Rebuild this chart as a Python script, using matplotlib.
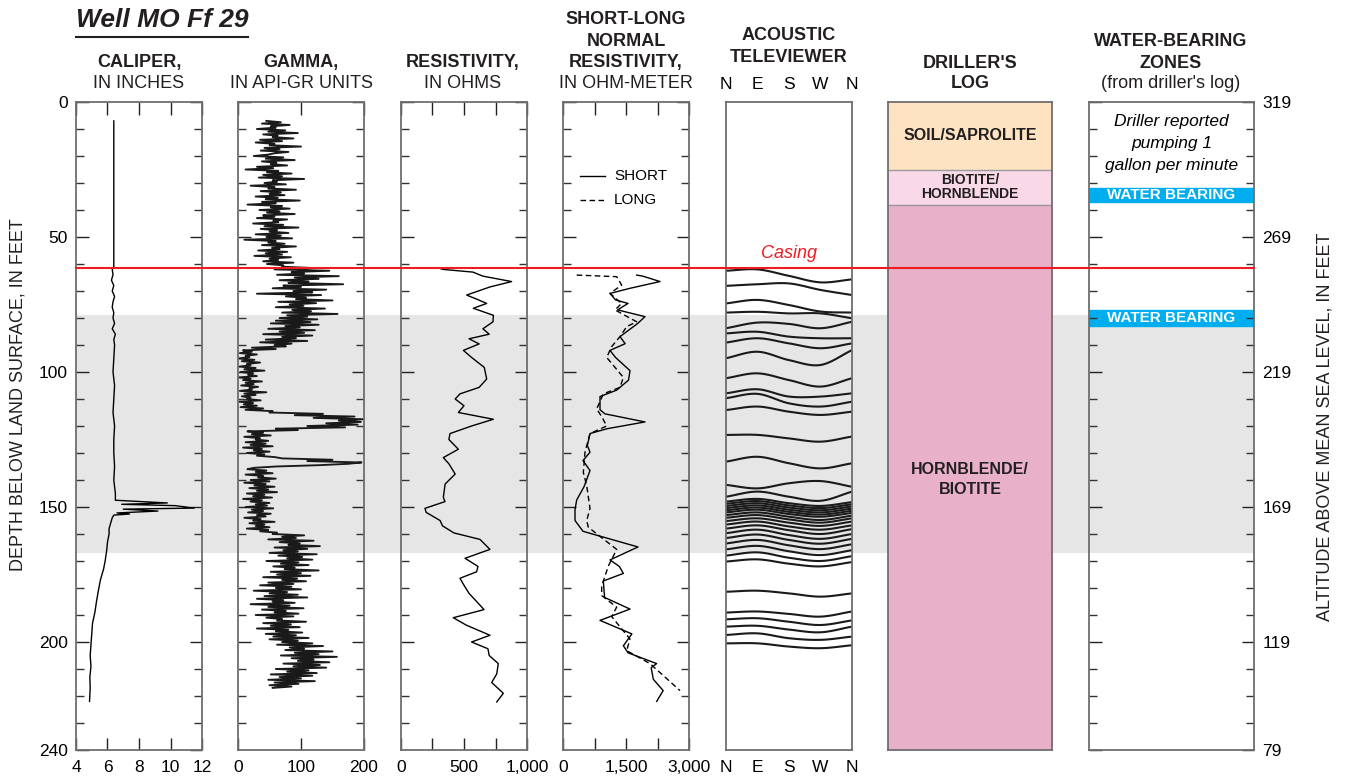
import numpy as np
import matplotlib
matplotlib.use('Agg')
import matplotlib.pyplot as plt
from matplotlib.patches import Rectangle
from matplotlib.lines import Line2D
import matplotlib.transforms as mtransforms

plt.rcParams['font.family'] = ['Liberation Sans', 'DejaVu Sans']

# ---------------- data ----------------
caliper_depth = [7, 61, 62, 64, 66, 68, 70, 72, 74, 76, 78, 80, 82, 84, 86, 88, 90, 95, 100, 105, 110,
                 115, 120, 125, 130, 135, 140, 145, 147.5, 148.5, 149, 149.5, 150.4, 150.8, 151.5, 152.2,
                 152.6, 153, 154, 156, 158, 160, 163, 166, 170, 173, 177, 181, 185, 189, 193, 197, 201,
                 205, 209, 213, 217, 222]
caliper_val = [6.4, 6.4, 6.3, 6.35, 6.25, 6.4, 6.3, 6.45, 6.35, 6.3, 6.4, 6.35, 6.45, 6.3, 6.5, 6.4, 6.45,
               6.4, 6.35, 6.45, 6.4, 6.35, 6.45, 6.4, 6.4, 6.45, 6.4, 6.5, 6.5, 9.8, 6.9, 10.3, 11.5, 7.0,
               9.2, 6.6, 7.4, 6.4, 6.3, 6.2, 6.1, 6.1, 6.0, 5.95, 5.85, 5.75, 5.55, 5.42, 5.3, 5.2, 5.05,
               5.0, 4.95, 4.9, 4.95, 4.88, 4.9, 4.86]

# gamma log sampled every 0.5 ft from 7 ft to 217 ft
gamma_top, gamma_step = 7.0, 0.5
gamma_val = [
    # 7-60.5 ft
    45, 68, 38, 82, 52, 60, 30, 75, 48, 95, 40, 63, 55, 88, 35, 70,
    28, 58, 50, 100, 42, 66, 36, 80, 58, 47, 25, 72, 44, 90, 38, 61,
    52, 78, 30, 56, 12, 64, 46, 85, 40, 70, 33, 105, 55, 62, 42, 76,
    20, 58, 48, 92, 36, 68, 50, 74, 28, 63, 44, 98, 38, 60, 15, 70,
    52, 82, 34, 66, 46, 90, 40, 58, 30, 78, 56, 64, 24, 72, 42, 96,
    36, 62, 50, 80, 28, 68, 45, 86, 10, 60, 48, 74, 38, 92, 54, 66,
    32, 78, 44, 70, 26, 84, 50, 64, 40, 88, 46, 72,
    # 61-80.5 ft
    70, 120, 58, 145, 85, 105, 62, 160, 90, 128, 66, 112, 80, 167, 72, 100,
    55, 140, 88, 118, 30, 132, 76, 108, 92, 150, 64, 124, 82, 104, 60, 138,
    86, 116, 70, 158, 78, 110, 66, 126,
    # 81-91.5 ft
    60, 115, 52, 128, 75, 98, 48, 122, 66, 105, 40, 118, 70, 92, 44, 110, 35, 85, 58, 76, 22, 60,
    # 92-114.5 ft
    8, 22, 3, 30, 12, 18, 0, 26, 6, 35, 14, 20, 2, 28, 10, 42,
    4, 24, 16, 30, 1, 20, 8, 38, 12, 25, 5, 32, 18, 22, 3, 45,
    10, 28, 6, 20, 14, 36, 2, 24, 9, 30, 4, 40, 12, 55,
    # 115-121.5 ft
    50, 135, 90, 185, 120, 199, 160, 195, 140, 190, 110, 170, 60, 95,
    # 122-131.5 ft
    15, 40, 22, 52, 10, 35, 28, 48, 12, 44, 20, 55, 8, 38, 25, 50, 14, 42, 30, 58,
    # 132-135.5 ft
    70, 150, 110, 196, 175, 130, 60, 25,
    # 136-159.5 ft
    15, 45, 28, 55, 12, 40, 32, 60, 20, 50, 10, 44, 26, 58, 18, 48,
    30, 62, 14, 42, 24, 54, 8, 38, 20, 50, 28, 46, 12, 56, 22, 40,
    16, 52, 30, 44, 10, 36, 24, 58, 18, 42, 28, 50, 14, 48, 35, 62,
    # 160-178.5 ft
    55, 105, 70, 92, 48, 120, 66, 98, 80, 130, 58, 110, 72, 95, 50, 125,
    64, 102, 78, 118, 45, 96, 68, 112, 56, 90, 74, 128, 52, 100, 62, 115,
    40, 94, 70, 108, 48, 88,
    # 179-199.5 ft
    35, 85, 60, 100, 25, 78, 50, 95, 42, 110, 30, 72, 55, 90, 20, 82,
    48, 104, 38, 76, 58, 96, 28, 88, 45, 70, 62, 108, 40, 84, 52, 98,
    30, 80, 60, 102, 44, 92, 56, 112, 50, 95,
    # 200-217 ft
    70, 118, 62, 135, 82, 105, 75, 150, 90, 128, 68, 157, 85, 120, 95, 145,
    72, 130, 88, 140, 60, 112, 78, 125, 52, 118, 66, 100, 48, 122, 58, 96,
    50, 85, 55,
]

res_depth = [61.5, 62, 63, 64.5, 66.5, 68.5, 71.5, 73, 74.6, 76.4, 79, 81.4, 84, 86, 87.7, 89.6, 92, 94.6,
             98.3, 102.6, 105.7, 108.1, 110, 112.5, 115, 117.5, 120, 122.8, 125, 128.6, 131.7, 134, 137.8,
             141.5, 146.4, 148, 150.5, 152, 155, 157, 159.6, 162, 165.7, 169, 172, 174, 176.4, 179, 182,
             185, 188, 191, 193.8, 197.5, 200, 202.5, 205, 208, 211.8, 215, 219, 222.2]
res_val = [300, 333, 571, 650, 878, 706, 521, 600, 680, 574, 733, 730, 650, 700, 540, 620, 495, 560, 661,
           680, 620, 468, 430, 500, 455, 733, 560, 389, 380, 455, 336, 380, 430, 350, 336, 349, 190, 200,
           310, 330, 420, 627, 706, 508, 611, 600, 468, 500, 540, 600, 659, 415, 520, 706, 560, 690, 700,
           772, 760, 720, 812, 760]

short_depth = [64.1, 64.5, 66.5, 69, 70.9, 73.3, 74.6, 77, 79.5, 82, 86.9, 89.5, 92, 94.6, 99.5, 103,
               106.7, 109.1, 114, 115.5, 118.5, 121, 122.8, 127.2, 129.7, 132.8, 136.5, 142.5, 147.4, 151,
               155, 159, 164.8, 169.6, 172, 174.6, 177.4, 183.5, 187.8, 192, 197, 201.4, 204, 208, 209.5,
               213.8, 218, 222]
short_val = [1754, 1900, 2310, 1595, 1119, 1250, 1548, 1300, 1952, 1780, 1357, 1480, 1119, 1250, 1595,
             1560, 1280, 881, 881, 1000, 1952, 1050, 643, 580, 643, 476, 643, 500, 326, 286, 286, 476,
             1786, 1119, 1340, 1437, 960, 990, 1595, 881, 1640, 1437, 1548, 2230, 2100, 2150, 2385, 2230]

long_depth = [64.1, 64.7, 67.8, 70.9, 74.6, 77, 81.4, 83.2, 86.9, 90.6, 94.6, 102, 105.7, 108.1, 113.7,
              116.5, 120, 122.8, 129.7, 137.2, 142.1, 150.5, 155, 157.5, 165.7, 171.9, 179.3, 182.8, 187.1,
              190.6, 198.9, 203.2, 208, 218]
long_val = [326, 1278, 1397, 1119, 1397, 1238, 1754, 1516, 1357, 1159, 1040, 1437, 1357, 960, 802, 921,
            1040, 643, 524, 484, 564, 643, 564, 603, 1278, 1079, 921, 921, 1278, 1159, 1595, 1516, 2071,
            2786]

# acoustic televiewer fractures: depth (ft) at azimuth N, E, S, W, N
atv_azimuth = [0, 90, 180, 270, 360]
atv_fractures = [
    [62.5, 62.0, 64.4, 66.8, 65.7],
    [68.1, 67.5, 67.2, 69.6, 71.5],
    [74.6, 73.3, 75.2, 77.6, 78.0],
    [78.0, 77.7, 78.3, 78.3, 80.1],
    [83.8, 81.7, 82.2, 83.8, 81.4],
    [85.7, 85.1, 86.9, 87.5, 87.5],
    [89.1, 87.5, 89.4, 91.2, 89.4],
    [94.9, 92.5, 95.6, 97.4, 91.9],
    [102.3, 100.5, 103.0, 105.4, 102.3],
    [107.9, 106.4, 109.1, 109.1, 107.9],
    [109.7, 108.1, 111.6, 112.8, 111.0],
    [114.1, 112.8, 114.7, 115.9, 114.7],
    [123.3, 123.3, 124.6, 125.8, 123.9],
    [133.2, 131.4, 133.8, 135.7, 133.8],
    [141.8, 143.1, 141.2, 140.4, 142.5],
    [146.2, 144.3, 146.2, 147.7, 144.3],
    [148.0, 147.0, 148.6, 149.6, 148.2],
    [148.8, 147.8, 149.4, 150.4, 149.0],
    [149.6, 148.6, 150.2, 151.2, 149.8],
    [150.4, 149.4, 151.0, 152.0, 150.6],
    [151.2, 150.2, 151.8, 152.8, 151.4],
    [152.0, 151.0, 152.6, 153.6, 152.2],
    [153.0, 152.0, 153.6, 154.8, 153.2],
    [154.0, 153.0, 154.6, 155.8, 154.2],
    [155.2, 154.2, 155.8, 157.0, 155.4],
    [156.5, 155.4, 157.2, 158.4, 156.8],
    [158.0, 156.8, 158.6, 160.0, 158.2],
    [159.7, 158.4, 160.4, 161.8, 160.0],
    [161.5, 160.2, 162.2, 163.6, 161.8],
    [163.5, 162.2, 164.2, 165.6, 163.8],
    [165.7, 164.4, 166.4, 167.8, 166.0],
    [168.0, 166.8, 168.8, 170.0, 168.2],
    [170.2, 169.4, 171.0, 172.0, 170.4],
    [181.4, 181.0, 182.0, 183.2, 182.0],
    [189.1, 188.7, 189.6, 190.6, 188.7],
    [191.6, 191.2, 192.5, 193.7, 192.0],
    [194.3, 194.0, 195.4, 196.4, 194.3],
    [197.4, 196.8, 198.6, 199.2, 198.0],
    [200.5, 200.5, 201.7, 202.3, 201.2],
]

driller_units = ['SOIL/SAPROLITE', 'BIOTITE/\nHORNBLENDE', 'HORNBLENDE/\nBIOTITE']
driller_top = [0, 25, 38]
driller_bot = [25, 38, 240]
driller_colors = ['#fde3c1', '#f9d9e7', '#e8b1c9']

water_zones_top = [32, 77]
water_zones_bot = [37, 83]

gray_band = (79, 167)
casing_depth = 61.5

depth_ticks = [0, 50, 100, 150, 200, 240]
altitude_labels = ['319', '269', '219', '169', '119', '79']

# ---------------- figure ----------------
W, H = 1348, 780
fig = plt.figure(figsize=(W / 100, H / 100), dpi=100)
TOP_PX, BOT_PX = 102, 750
FRAME = '#6e6e6e'


def add_ax(x0, x1):
    ax = fig.add_axes([x0 / W, 1 - BOT_PX / H, (x1 - x0) / W, (BOT_PX - TOP_PX) / H])
    ax.set_facecolor('none')
    ax.set_ylim(240, 0)
    for s in ax.spines.values():
        s.set_color(FRAME)
        s.set_linewidth(1.3)
    return ax


def depth_ticks_on(ax, left=True, right=True):
    ax.set_yticks([0, 50, 100, 150, 200])
    ax.set_yticks(np.arange(10, 240, 10), minor=True)
    ax.tick_params(axis='y', which='major', direction='in', length=9, width=1.0, color='#222222',
                   left=left, right=right, labelleft=False)
    ax.tick_params(axis='y', which='minor', direction='in', length=6, width=1.0, color='#333333',
                   left=left, right=right)


def x_ticks(ax, major, labels, minor=None):
    ax.set_xticks(major)
    ax.set_xticklabels(labels)
    if minor:
        ax.set_xticks(minor, minor=True)
    ax.tick_params(axis='x', which='both', direction='in', length=9, width=1.0, color='#222222',
                   top=True, bottom=True, labelsize=12.5, pad=7)


axes_px = {
    'cal': (76, 202), 'gam': (238, 364), 'res': (401, 527), 'sl': (563, 689),
    'atv': (726, 852), 'drl': (888, 1052), 'wat': (1089, 1254),
}

ax_cal = add_ax(*axes_px['cal'])
ax_cal.set_xlim(4, 12)
depth_ticks_on(ax_cal)
x_ticks(ax_cal, [4, 6, 8, 10, 12], ['4', '6', '8', '10', '12'])
ax_cal.set_yticks(depth_ticks)
ax_cal.set_yticklabels([str(d) for d in depth_ticks])
ax_cal.tick_params(axis='y', which='major', labelleft=True, labelsize=12.5, pad=6)
ax_cal.plot(caliper_val, caliper_depth, color='black', lw=1.0)

ax_gam = add_ax(*axes_px['gam'])
ax_gam.set_xlim(0, 200)
depth_ticks_on(ax_gam)
x_ticks(ax_gam, [0, 100, 200], ['0', '100', '200'])
gdepth = gamma_top + gamma_step * np.arange(len(gamma_val))
ax_gam.plot(gamma_val, gdepth, color='#1a1a1a', lw=1.35)

ax_res = add_ax(*axes_px['res'])
ax_res.set_xlim(0, 1000)
depth_ticks_on(ax_res)
x_ticks(ax_res, [0, 500, 1000], ['0', '500', '1,000'], minor=[250, 750])
ax_res.plot(res_val, res_depth, color='black', lw=1.0)

ax_sl = add_ax(*axes_px['sl'])
ax_sl.set_xlim(0, 3000)
depth_ticks_on(ax_sl)
x_ticks(ax_sl, [0, 1500, 3000], ['0', '1,500', '3,000'], minor=[750, 2250])
ax_sl.plot(short_val, short_depth, color='black', lw=1.0)
ax_sl.plot(long_val, long_depth, color='black', lw=1.0, ls=(0, (4, 2.5)))
ax_sl.plot([405, 1000], [27.4, 27.4], color='black', lw=1.0)
ax_sl.plot([405, 1000], [36.3, 36.3], color='black', lw=1.0, ls=(0, (4, 2.5)))
ax_sl.text(1214, 27.4, 'SHORT', fontsize=11, va='center', ha='left')
ax_sl.text(1214, 36.3, 'LONG', fontsize=11, va='center', ha='left')

ax_atv = add_ax(*axes_px['atv'])
ax_atv.set_xlim(0, 360)
ax_atv.set_yticks([])
ax_atv.set_xticks(atv_azimuth)
ax_atv.set_xticklabels(['N', 'E', 'S', 'W', 'N'])
ax_atv.tick_params(axis='x', length=0, labeltop=True, labelbottom=True, labelsize=12.5, pad=7)


def catmull(xs, ys, n=24):
    P = np.column_stack([xs, ys]).astype(float)
    P = np.vstack([2 * P[0] - P[1], P, 2 * P[-1] - P[-2]])
    out = []
    t = np.linspace(0, 1, n)[:, None]
    for i in range(1, len(P) - 2):
        p0, p1, p2, p3 = P[i - 1], P[i], P[i + 1], P[i + 2]
        seg = 0.5 * ((2 * p1) + (-p0 + p2) * t + (2 * p0 - 5 * p1 + 4 * p2 - p3) * t ** 2 +
                     (-p0 + 3 * p1 - 3 * p2 + p3) * t ** 3)
        out.append(seg if i == 1 else seg[1:])
    return np.vstack(out)


for frac in atv_fractures:
    c = catmull(atv_azimuth, frac)
    ax_atv.plot(c[:, 0], c[:, 1], color='#1a1a1a', lw=1.5, solid_capstyle='butt')

ax_drl = add_ax(*axes_px['drl'])
ax_drl.set_xlim(0, 1)
ax_drl.set_xticks([])
ax_drl.set_yticks([])
for name, t, b, c in zip(driller_units, driller_top, driller_bot, driller_colors):
    ax_drl.axhspan(t, b, color=c, zorder=0)
    ax_drl.axhline(b, color='#9a9a9a', lw=1.0)
ax_drl.text(0.5, 12.5, driller_units[0], ha='center', va='center', fontsize=11.5, fontweight='bold',
            color='#231f20')
ax_drl.text(0.5, 31.5, driller_units[1], ha='center', va='center', fontsize=10, fontweight='bold',
            color='#231f20', linespacing=1.05)
ax_drl.text(0.5, 139.8, driller_units[2], ha='center', va='center', fontsize=11.5, fontweight='bold',
            color='#231f20', linespacing=1.45)

ax_wat = add_ax(*axes_px['wat'])
ax_wat.set_xlim(0, 1)
depth_ticks_on(ax_wat)
ax_wat.set_xticks([])
ax_wat.set_yticks(depth_ticks)
ax_wat.set_yticklabels(altitude_labels)
ax_wat.tick_params(axis='y', which='major', labelright=True, labelleft=False, labelsize=12.5, pad=6)
for t, b in zip(water_zones_top, water_zones_bot):
    ax_wat.axhspan(t, b, color='#00aeef', zorder=1)
    ax_wat.text(0.5, (t + b) / 2, 'WATER BEARING', ha='center', va='center', color='white',
                fontsize=11, fontweight='bold', zorder=3)
ax_wat.text(0.5, 7.4, 'Driller reported', ha='center', va='center', fontsize=12.5, style='italic')
ax_wat.text(0.5, 15.5, 'pumping 1', ha='center', va='center', fontsize=12.5, style='italic')
ax_wat.text(0.5, 23.7, 'gallon per minute', ha='center', va='center', fontsize=12.5, style='italic')

# gray band and casing spanning all panels
blend = mtransforms.blended_transform_factory(fig.transFigure, ax_cal.transData)
fig.add_artist(Rectangle((76 / W, gray_band[0]), (1254 - 76) / W, gray_band[1] - gray_band[0],
                         transform=blend, facecolor='#e6e6e6', edgecolor='none', zorder=-1))
fig.add_artist(Line2D([76 / W, 1254 / W], [casing_depth, casing_depth], transform=blend,
                      color='#ed1c24', lw=1.5, zorder=5))
fig.text(789 / W, 1 - 254 / H, 'Casing', color='#ed1c24', style='italic', fontsize=13,
         ha='center', va='center')


def header(x, y, s, bold=True, size=13):
    fig.text(x / W, 1 - y / H, s, ha='center', va='center', fontsize=size,
             fontweight='bold' if bold else 'normal', color='#231f20')


header(139, 63, 'CALIPER,')
header(139, 84, 'IN INCHES', bold=False)
header(301, 63, 'GAMMA,')
header(301, 84, 'IN API-GR UNITS', bold=False)
header(463, 63, 'RESISTIVITY,')
header(463, 84, 'IN OHMS', bold=False)
header(626, 19, 'SHORT-LONG')
header(626, 41, 'NORMAL')
header(626, 63, 'RESISTIVITY,')
header(626, 84, 'IN OHM-METER', bold=False)
header(789, 35, 'ACOUSTIC')
header(789, 57, 'TELEVIEWER')
header(970, 63, "DRILLER'S")
header(970, 84, 'LOG')
header(1171, 41, 'WATER-BEARING')
header(1171, 63, 'ZONES')
header(1171, 84, "(from driller's log)", bold=False)

fig.text(76 / W, 1 - 20 / H, 'Well MO Ff 29', fontsize=19, fontweight='bold', style='italic',
         ha='left', va='center', color='#231f20')
fig.add_artist(Line2D([76 / W, 248 / W], [1 - 37 / H, 1 - 37 / H], color='#231f20', lw=1.5))

fig.text(18 / W, 1 - 395 / H, 'DEPTH BELOW LAND SURFACE, IN FEET', rotation=90, fontsize=13,
         ha='center', va='center', color='#231f20')
fig.text(1325 / W, 1 - 427 / H, 'ALTITUDE ABOVE MEAN SEA LEVEL, IN FEET', rotation=90, fontsize=13,
         ha='center', va='center', color='#231f20')

fig.savefig('out.png', dpi=100)
